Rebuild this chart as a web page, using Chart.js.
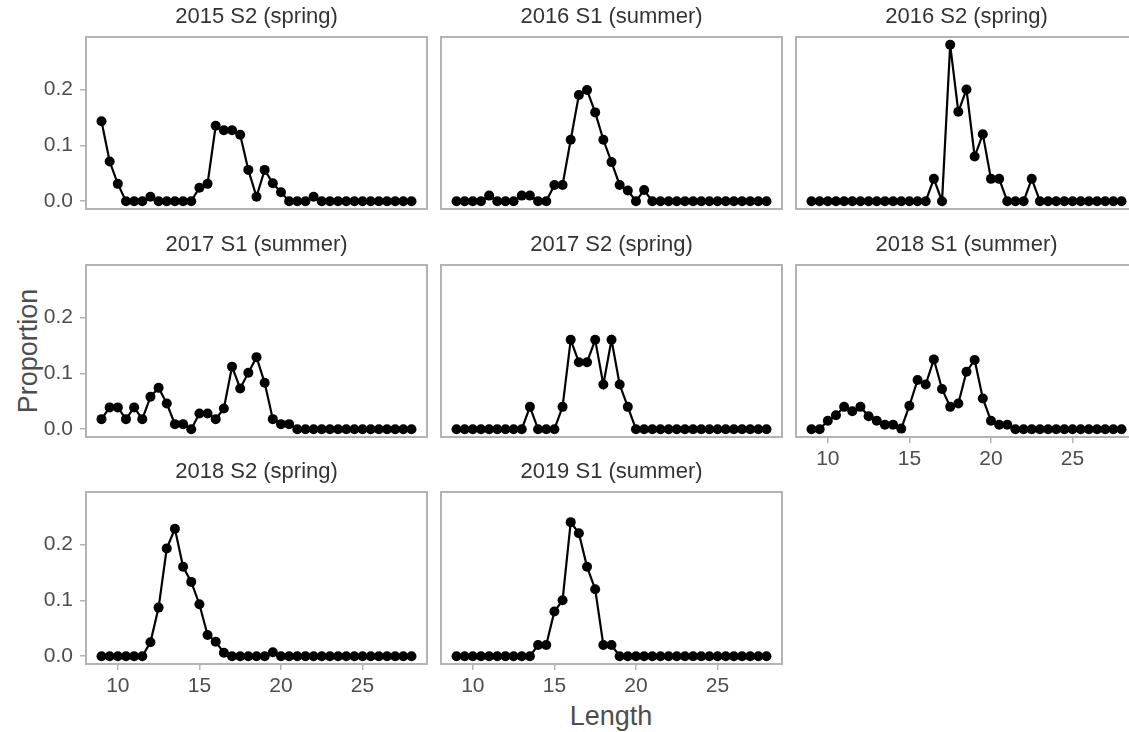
<!DOCTYPE html>
<html>
<head>
<meta charset="utf-8">
<script src="https://cdn.jsdelivr.net/npm/chart.js@4.4.1/dist/chart.umd.min.js"></script>
<style>
  html, body { margin: 0; padding: 0; background: #fff; }
  body { position: relative; width: 1129px; height: 732px; overflow: hidden; font-family: "Liberation Sans", Arial, sans-serif; }
  canvas { position: absolute; }
  .axtitle { position: absolute; color: #4d4d4d; font-size: 27px; white-space: nowrap; transform: translate(-50%, -50%); }
  #ytitle { left: 28px; top: 351px; transform: translate(-50%, -50%) rotate(-90deg); }
  #xtitle { left: 611px; top: 716px; }
</style>
</head>
<body>
<div class="axtitle" id="ytitle">Proportion</div>
<div class="axtitle" id="xtitle">Length</div>
<script>
// Longueurs (x) communes a tous les panneaux
const lengths = [9, 9.5, 10, 10.5, 11, 11.5, 12, 12.5, 13, 13.5, 14, 14.5, 15, 15.5, 16, 16.5, 17, 17.5, 18, 18.5,
                 19, 19.5, 20, 20.5, 21, 21.5, 22, 22.5, 23, 23.5, 24, 24.5, 25, 25.5, 26, 26.5, 27, 27.5, 28];

const panelTitles = ['2015 S2 (spring)', '2016 S1 (summer)', '2016 S2 (spring)', '2017 S1 (summer)',
                     '2017 S2 (spring)', '2018 S1 (summer)', '2018 S2 (spring)', '2019 S1 (summer)'];

const p2015S2 = [0.143, 0.071, 0.031, 0, 0, 0, 0.008, 0, 0, 0, 0, 0, 0.024, 0.031, 0.135, 0.127, 0.127, 0.119, 0.056, 0.008,
                 0.056, 0.032, 0.016, 0, 0, 0, 0.008, 0, 0, 0, 0, 0, 0, 0, 0, 0, 0, 0, 0];
const p2016S1 = [0, 0, 0, 0, 0.010, 0, 0, 0, 0.010, 0.010, 0, 0, 0.029, 0.029, 0.110, 0.190, 0.199, 0.159, 0.110, 0.070,
                 0.029, 0.019, 0, 0.020, 0, 0, 0, 0, 0, 0, 0, 0, 0, 0, 0, 0, 0, 0, 0];
const p2016S2 = [0, 0, 0, 0, 0, 0, 0, 0, 0, 0, 0, 0, 0, 0, 0, 0.04, 0, 0.28, 0.16, 0.20,
                 0.08, 0.12, 0.04, 0.04, 0, 0, 0, 0.04, 0, 0, 0, 0, 0, 0, 0, 0, 0, 0, 0];
const p2017S1 = [0.018, 0.039, 0.039, 0.018, 0.039, 0.018, 0.058, 0.074, 0.046, 0.009, 0.009, 0, 0.028, 0.028, 0.018, 0.037, 0.112, 0.073, 0.101, 0.129,
                 0.083, 0.018, 0.009, 0.009, 0, 0, 0, 0, 0, 0, 0, 0, 0, 0, 0, 0, 0, 0, 0];
const p2017S2 = [0, 0, 0, 0, 0, 0, 0, 0, 0, 0.04, 0, 0, 0, 0.04, 0.16, 0.12, 0.12, 0.16, 0.08, 0.16,
                 0.08, 0.04, 0, 0, 0, 0, 0, 0, 0, 0, 0, 0, 0, 0, 0, 0, 0, 0, 0];
const p2018S1 = [0, 0, 0.015, 0.025, 0.040, 0.032, 0.040, 0.023, 0.015, 0.008, 0.008, 0.001, 0.042, 0.088, 0.080, 0.125, 0.072, 0.040, 0.046, 0.103,
                 0.124, 0.055, 0.015, 0.008, 0.008, 0, 0, 0, 0, 0, 0, 0, 0, 0, 0, 0, 0, 0, 0];
const p2018S2 = [0, 0, 0, 0, 0, 0, 0.025, 0.087, 0.193, 0.228, 0.160, 0.133, 0.093, 0.038, 0.026, 0.006, 0, 0, 0, 0,
                 0, 0.007, 0, 0, 0, 0, 0, 0, 0, 0, 0, 0, 0, 0, 0, 0, 0, 0, 0];
const p2019S1 = [0, 0, 0, 0, 0, 0, 0, 0, 0, 0, 0.02, 0.02, 0.08, 0.10, 0.24, 0.22, 0.16, 0.12, 0.02, 0.02,
                 0, 0, 0, 0, 0, 0, 0, 0, 0, 0, 0, 0, 0, 0, 0, 0, 0, 0, 0];

const panelValues = [p2015S2, p2016S1, p2016S2, p2017S1, p2017S2, p2018S1, p2018S2, p2019S1];

const xTicks = [10, 15, 20, 25];
const yTicks = [0, 0.1, 0.2];

// Grille des panneaux (pixels)
const colLeft = [86, 441, 796];
const rowTop = [37, 265, 492];
const panelW = 341, panelH = 172;
const marginL = 86, marginT = 37, marginR = 14, marginB = 45;

const family = '"Liberation Sans", Arial, sans-serif';
Chart.defaults.font.family = family;

// Cadre gris autour de chaque panneau
const framePlugin = {
    id: 'frame',
    afterDatasetsDraw(chart) {
        const a = chart.chartArea;
        const ctx = chart.ctx;
        ctx.save();
        ctx.strokeStyle = '#b3b3b3';
        ctx.lineWidth = 2;
        ctx.strokeRect(a.left, a.top, a.right - a.left, a.bottom - a.top);
        ctx.restore();
    }
};

const makePanel = (i) => {
    const col = i % 3;
    const row = Math.floor(i / 3);
    const showY = col === 0;
    const showX = i >= 5;

    const canvas = document.createElement('canvas');
    canvas.width = marginL + panelW + marginR;
    canvas.height = marginT + panelH + marginB;
    canvas.style.left = (colLeft[col] - marginL) + 'px';
    canvas.style.top = (rowTop[row] - marginT) + 'px';
    document.body.appendChild(canvas);

    const values = panelValues[i];
    const data = {
        datasets: [{
            data: lengths.map((x, k) => ({ x: x, y: values[k] })),
            borderColor: '#000000',
            borderWidth: 2.2,
            pointRadius: 5,
            pointBackgroundColor: '#000000',
            pointBorderColor: '#000000',
            pointBorderWidth: 0,
            tension: 0
        }]
    };

    new Chart(canvas, {
        type: 'line',
        data: data,
        options: {
            responsive: false,
            animation: false,
            devicePixelRatio: 1,
            layout: { padding: { left: 0, top: 0, right: marginR, bottom: 0 } },
            scales: {
                x: {
                    type: 'linear',
                    min: 8.05,
                    max: 28.95,
                    afterBuildTicks: (s) => { s.ticks = xTicks.map(v => ({ value: v })); },
                    afterFit: (s) => { s.height = marginB; },
                    border: { display: false },
                    grid: { display: showX, drawOnChartArea: false, tickLength: 6, color: '#b3b3b3', lineWidth: 1.5 },
                    ticks: { display: showX, padding: 4, color: '#4d4d4d', font: { size: 21 } }
                },
                y: {
                    type: 'linear',
                    min: -0.014,
                    max: 0.294,
                    afterBuildTicks: (s) => { s.ticks = yTicks.map(v => ({ value: v })); },
                    afterFit: (s) => { s.width = marginL; },
                    border: { display: false },
                    grid: { display: showY, drawOnChartArea: false, tickLength: 6, color: '#b3b3b3', lineWidth: 1.5 },
                    ticks: { display: showY, padding: 7, color: '#4d4d4d', font: { size: 21 },
                             callback: (v) => Number(v).toFixed(1) }
                }
            },
            plugins: {
                legend: { display: false },
                tooltip: { enabled: false },
                title: {
                    display: true,
                    text: panelTitles[i],
                    fullSize: false,
                    color: '#333333',
                    font: { size: 22, weight: 'normal' },
                    padding: { top: 4, bottom: 6.6 }
                }
            }
        },
        plugins: [framePlugin]
    });
};

for (let i = 0; i < panelTitles.length; i++) {
    makePanel(i);
}
</script>
</body>
</html>
